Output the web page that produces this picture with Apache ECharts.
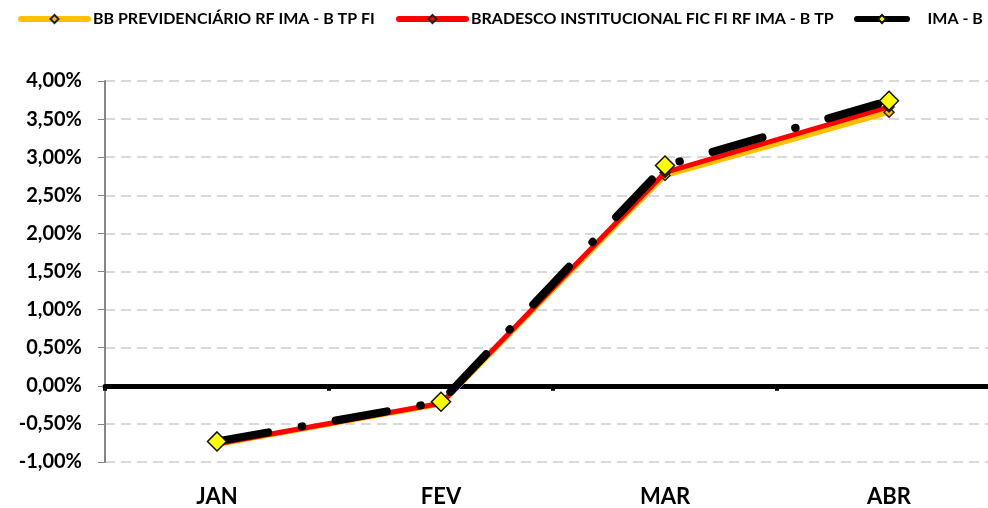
<!DOCTYPE html>
<html>
<head>
<meta charset="utf-8">
<script src="https://cdn.jsdelivr.net/npm/echarts@6/dist/echarts.min.js"></script>
<style>
  html, body { margin: 0; padding: 0; background: #fff; }
  #main { width: 988px; height: 508px; }
</style>
</head>
<body>
<div id="main"></div>
<script>
  // months and monthly returns (%)
  var months = ['JAN', 'FEV', 'MAR', 'ABR'];
  var bbPrev = [-0.77, -0.24, 2.76, 3.59];
  var bradesco = [-0.76, -0.23, 2.80, 3.66];
  var imaB = [-0.73, -0.21, 2.89, 3.74];
  var seriesNames = ['BB PREVIDENCIÁRIO RF IMA - B TP FI', 'BRADESCO INSTITUCIONAL FIC FI RF IMA - B TP', 'IMA - B'];

  var myChart = echarts.init(document.getElementById('main'));
  var font = 'Lato, "Open Sans", sans-serif';

  function pct(v) {
    return v.toFixed(2).replace('.', ',') + '%';
  }

  function legendAt(left, name, w, pad) {
    return {
      data: [name],
      left: left,
      top: 11,
      padding: 0,
      itemWidth: w,
      itemHeight: 10,
      lineStyle: { width: 6, cap: 'round', type: 'solid' },
      formatter: function (n) { return pad + n; },
      textStyle: { fontFamily: font, fontWeight: 'bold', fontSize: 16, color: '#000' },
      selectedMode: false
    };
  }

  var option = {
    animation: false,
    legend: [
      legendAt(18, seriesNames[0], 67, ''),
      legendAt(396, seriesNames[1], 67, ''),
      legendAt(854, seriesNames[2], 50, '    ')
    ],
    grid: { left: 105, top: 81, width: 896, height: 381, containLabel: false, outerBoundsMode: 'none' },
    xAxis: [{
      type: 'category',
      data: months,
      axisLine: { onZero: true, lineStyle: { color: '#000', width: 5 } },
      axisTick: { show: true, inside: false, length: 5, lineStyle: { color: '#000', width: 4 } },
      axisLabel: { show: false },
      splitLine: { show: false }
    }, {
      type: 'category',
      data: months,
      position: 'bottom',
      axisLine: { show: false, onZero: false },
      axisTick: { show: false },
      axisLabel: { margin: 24, fontFamily: font, fontWeight: 'bold', fontSize: 22, color: '#000' }
    }],
    yAxis: {
      type: 'value',
      min: -1,
      max: 4,
      interval: 0.5,
      axisLine: { show: true, lineStyle: { color: '#868686', width: 2 } },
      axisTick: { show: true, length: 7, lineStyle: { color: '#868686', width: 1 } },
      axisLabel: { formatter: pct, margin: 23, fontFamily: font, fontWeight: 'bold', fontSize: 20, color: '#000' },
      splitLine: { lineStyle: { color: '#d9d9d9', width: 2, type: [10, 6] } }
    },
    series: [{
      name: seriesNames[0],
      type: 'line',
      data: bbPrev,
      symbol: 'diamond',
      symbolSize: 10,
      lineStyle: { color: '#FFC000', width: 5 },
      itemStyle: { color: '#FFC000', borderColor: '#222', borderWidth: 1.5 },
      z: 3
    }, {
      name: seriesNames[1],
      type: 'line',
      data: bradesco,
      symbol: 'diamond',
      symbolSize: 10,
      lineStyle: { color: '#FF0000', width: 5 },
      itemStyle: { color: '#FF0000', borderColor: '#222', borderWidth: 1.5 },
      z: 4
    }, {
      name: seriesNames[2],
      type: 'line',
      data: imaB,
      symbol: 'diamond',
      symbolSize: 19,
      lineStyle: { color: '#000', width: 8, type: [52, 34, 0.5, 34], cap: 'round' },
      itemStyle: { color: '#FFFF00', borderColor: '#111', borderWidth: 1.5 },
      z: 5
    }]
  };

  myChart.setOption(option);
</script>
</body>
</html>
